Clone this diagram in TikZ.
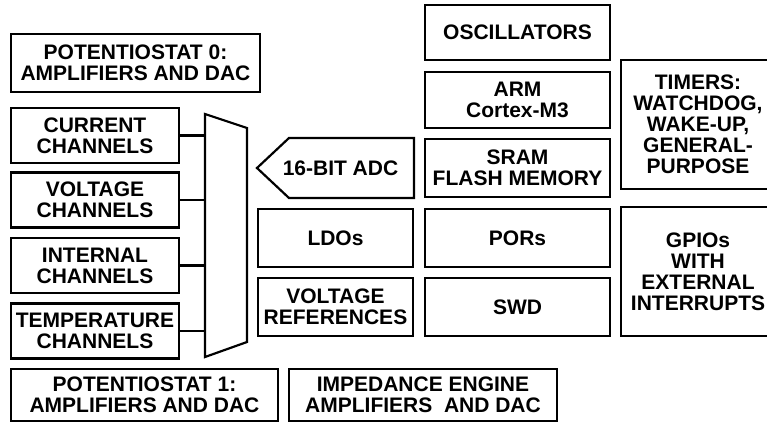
\documentclass[tikz,border=0pt]{standalone}
\usepackage{fontspec}
\setmainfont{Liberation Sans}
\usetikzlibrary{shapes}

\begin{document}
\begin{tikzpicture}[x=1pt,y=-1pt,
    blk/.style={draw,line width=2.2pt,inner sep=0pt,align=center,
      font=\fontsize{21}{21}\selectfont\bfseries},
    chan/.style={blk,minimum width=168pt,minimum height=55pt}]
        \useasboundingbox (0,0) rectangle (767,423);
        \clip (0,0) rectangle (767,423);
        % Left column
        \node[blk,minimum width=249pt,minimum height=58pt] (pot0) at (135.5,63) {POTENTIOSTAT 0:\\AMPLIFIERS AND DAC};
        \node[chan] (cur) at (95,135.5) {CURRENT\\CHANNELS};
        \node[chan] (volt) at (95,200) {VOLTAGE\\CHANNELS};
        \node[chan] (intern) at (95,265.5) {INTERNAL\\CHANNELS};
        \node[chan] (temp) at (95,331) {TEMPERATURE\\CHANNELS};
        \node[blk,minimum width=267pt,minimum height=52pt] (pot1) at (144.5,395) {POTENTIOSTAT 1:\\AMPLIFIERS AND DAC};
        \node[blk,minimum width=268pt,minimum height=52pt] (imp) at (423,395) {IMPEDANCE ENGINE\\AMPLIFIERS\ \ AND DAC};
        % Mux
        \coordinate (mtl) at (205,114);
        \coordinate (mtr) at (247,128);
        \coordinate (mbr) at (247,342);
        \coordinate (mbl) at (205,357);
        \draw[line width=2.2pt] (mtl) -- (mtr) -- (mbr) -- (mbl) -- cycle;
        \foreach \n in {cur,volt,intern,temp}
          \draw[line width=2.2pt] (\n.east) -- (\n.east -| mtl);
        % Middle column
        \node[blk,draw=none] (adc) at (340.5,168) {16-BIT ADC};
        \draw[line width=2.2pt] (289,138) -- (414,138) -- (414,198) -- (289,198) -- (257,168) -- cycle;
        \node[blk,minimum width=155pt,minimum height=58pt] (ldo) at (335.5,238) {LDOs};
        \node[blk,minimum width=155pt,minimum height=58pt] (vref) at (335.5,307) {VOLTAGE\\REFERENCES};
        % Core column
        \node[blk,minimum width=185pt,minimum height=55pt] (osc) at (517.5,32.5) {OSCILLATORS};
        \node[blk,minimum width=185pt,minimum height=56pt] (arm) at (517.5,100) {ARM\\Cortex-M3};
        \node[blk,minimum width=185pt,minimum height=58pt] (sram) at (517.5,168) {SRAM\\FLASH MEMORY};
        \node[blk,minimum width=185pt,minimum height=58pt] (por) at (517.5,238) {PORs};
        \node[blk,minimum width=185pt,minimum height=58pt] (swd) at (517.5,307) {SWD};
        % Right column
        \node[blk,minimum width=154pt,minimum height=129pt] (tmr) at (698,124.5) {TIMERS:\\WATCHDOG,\\WAKE-UP,\\GENERAL-\\PURPOSE};
        \node[blk,minimum width=154pt,minimum height=129pt] (gpio) at (698,271.5) {GPIOs\\WITH\\EXTERNAL\\INTERRUPTS};
\end{tikzpicture}
\end{document}
